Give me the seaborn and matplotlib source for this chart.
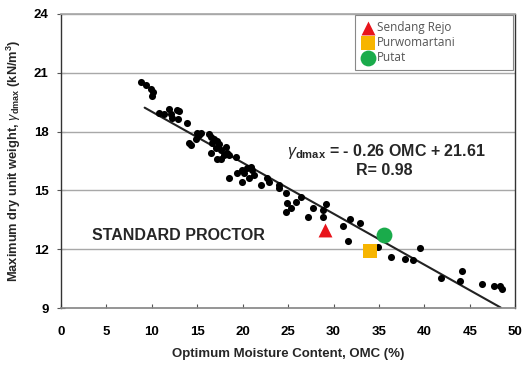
import matplotlib
matplotlib.use("Agg")
import matplotlib.pyplot as plt
import seaborn as sns
import pandas as pd
import numpy as np

# Compaction test data
omc = [8.75, 9.3, 9.85, 10.07, 9.96,
       10.83, 11.38, 11.93, 12.14, 12.25, 12.8, 13.02, 12.9, 13.9,
       14.99, 15.43, 15.21, 14.11, 14.33, 14.88, 16.3, 16.52, 16.85, 17.18, 17.4,
       16.63, 17.07, 16.52, 17.61, 18.16, 18.27, 17.94, 17.18, 17.61, 18.49, 19.26,
       19.37, 18.49,
       19.91, 20.13, 20.46, 20.9, 21.0, 21.23, 20.68, 19.91, 21.99, 22.65, 22.87,
       23.96, 23.96, 24.73, 24.84, 25.27, 24.73, 25.82, 26.37, 27.24, 27.79, 28.88,
       29.21, 28.88, 31.07, 31.62,
       31.84, 32.93, 34.9, 36.32, 37.86, 38.73, 39.5,
       41.79, 43.87, 44.09, 46.39, 47.7, 48.36, 48.58]
gdmax = [20.54, 20.39, 20.19, 20.03, 19.83,
         18.97, 18.92, 19.17, 18.92, 18.71, 19.12, 19.07, 18.66, 18.46,
         17.95, 17.95, 17.80, 17.44, 17.29, 17.64, 17.90, 17.70, 17.64, 17.54, 17.39,
         17.44, 17.14, 16.93, 17.04, 17.19, 16.93, 16.78, 16.58, 16.58, 16.78, 16.68,
         15.87, 15.61,
         16.02, 15.87, 16.12, 16.17, 16.02, 15.76, 15.61, 15.41, 15.26, 15.61, 15.41,
         15.26, 15.10, 14.85, 14.34, 14.09, 13.88, 14.39, 14.65, 13.63, 14.09, 13.98,
         14.29, 13.63, 13.17, 12.41,
         13.53, 13.32, 12.10, 11.60, 11.49, 11.44, 12.05,
         10.53, 10.38, 10.88, 10.22, 10.12, 10.12, 9.97]

sites = ["Sendang Rejo", "Purwomartani", "Putat"]
site_omc = [29.1, 34.0, 35.5]
site_g = [13.0, 11.9, 12.7]
site_colors = ["#e8141b", "#f7b500", "#1aab4b"]
site_markers = ["^", "s", "o"]

slope, intercept = -0.26, 21.61
fit_x = [9.2, 48.4]

xticks = [0, 5, 10, 15, 20, 25, 30, 35, 40, 45, 50]
yticks = [9, 12, 15, 18, 21, 24]

sns.set_theme(style="white")
plt.rcParams["font.family"] = ["Liberation Sans", "DejaVu Sans"]
plt.rcParams["mathtext.fontset"] = "custom"
plt.rcParams["mathtext.rm"] = "Liberation Sans:bold"
plt.rcParams["mathtext.it"] = "Liberation Sans:italic"
plt.rcParams["mathtext.bf"] = "Liberation Sans:bold"

fig = plt.figure(figsize=(5.22, 3.65), dpi=100)
ax = fig.add_axes([0.117, 0.156, 0.870, 0.806])

df = pd.DataFrame({"omc": omc, "g": gdmax})
sns.scatterplot(data=df, x="omc", y="g", ax=ax, color="black", s=26,
                edgecolor="black", linewidth=0, zorder=3, legend=False)

fit_df = pd.DataFrame({"x": fit_x, "y": [slope * v + intercept for v in fit_x]})
sns.lineplot(data=fit_df, x="x", y="y", ax=ax, color="#222222", linewidth=1.5, zorder=2)

sizes = [100, 90, 130]
for name, xo, yo, c, m, sz in zip(sites, site_omc, site_g, site_colors, site_markers, sizes):
    sns.scatterplot(x=[xo], y=[yo], ax=ax, color=c, marker=m, s=sz,
                    edgecolor=c, linewidth=0, zorder=4, label=name)

ax.set_xlim(0, 50)
ax.set_ylim(9, 24)
ax.set_xticks(xticks)
ax.set_yticks(yticks)
for yv in yticks[1:]:
    ax.axhline(yv, color="#a8a8a8", linewidth=1.0, zorder=1)

for lbl in ax.get_xticklabels() + ax.get_yticklabels():
    lbl.set_fontweight("bold")
ax.tick_params(axis="x", direction="in", length=3, width=0.8, labelsize=9.5,
               pad=13, colors="#555555", labelcolor="black")
ax.tick_params(axis="y", direction="inout", length=6, width=0.8, labelsize=9.5,
               pad=6, colors="#555555", labelcolor="black")
ax.tick_params(left=True, bottom=True)

for side in ["left", "right"]:
    ax.spines[side].set_color("#333333")
    ax.spines[side].set_linewidth(1.0)
ax.spines["bottom"].set_color("#888888")
ax.spines["top"].set_color("#a8a8a8")

ax.set_xlabel("Optimum Moisture Content, OMC (%)", fontsize=9.5, fontweight="bold", labelpad=7)
ax.set_ylabel(r"Maximum dry unit weight, $\mathit{\gamma}_{\mathrm{dmax}}$ (kN/m$^{\mathrm{3}}$)",
              fontsize=9.3, fontweight="bold", labelpad=8)

ax.text(35.8, 17.0, r"$\mathit{\gamma}_{\mathrm{dmax}}$ = - 0.26 OMC + 21.61",
        fontsize=11.5, fontweight="bold", ha="center", va="center")
ax.text(35.6, 16.0, "R= 0.98", fontsize=11.5, fontweight="bold", ha="center", va="center")
ax.text(3.4, 12.72, "STANDARD PROCTOR", fontsize=11.5, fontweight="bold",
        ha="left", va="center")

leg = ax.legend(loc="upper left", bbox_to_anchor=(0.647, 0.995, 0.348, 0.0),
                mode="expand", frameon=True,
                fancybox=False, edgecolor="#888888", framealpha=1,
                prop={"family": "Open Sans", "size": 8.5}, handletextpad=0.1,
                handlelength=1.3, borderpad=0.45, labelspacing=0.2,
                borderaxespad=0.0)
for t in leg.get_texts():
    t.set_color("#555555")
leg.get_frame().set_linewidth(0.8)

fig.savefig("out.png", dpi=100)
